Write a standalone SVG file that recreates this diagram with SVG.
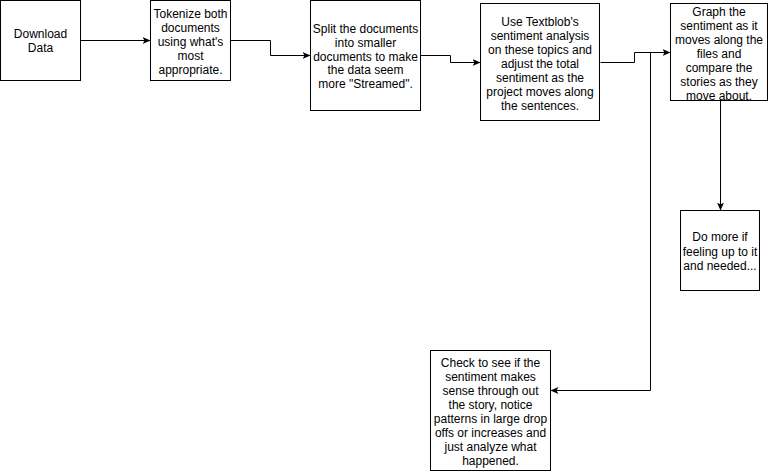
<svg xmlns="http://www.w3.org/2000/svg" width="769" height="471" viewBox="0 0 769 471">
<style>
.box{fill:#fff;stroke:#000;stroke-width:1}
.lbl{font-family:"Liberation Sans",Arial,Helvetica,sans-serif;font-size:12px;fill:#000;text-anchor:middle}
.edge{fill:none;stroke:#000;stroke-width:1;marker-end:url(#arr)}
</style>
<defs>
<marker id="arr" viewBox="0 0 8 8" refX="7.5" refY="4" markerWidth="8" markerHeight="8" markerUnits="userSpaceOnUse" orient="auto">
<path d="M0,0.5 L8,4 L0,7.5 L2,4 Z" fill="#000" stroke="none"/>
</marker>
</defs>
<rect width="769" height="471" fill="#fff"/>
<g id="connectors">
<path class="edge" d="M80.5 40.5 H150"/>
<path class="edge" d="M230.5 40.5 H270.5 V55.5 H310"/>
<path class="edge" d="M420.5 55.5 H450.5 V62.5 H480"/>
<path class="edge" d="M600.5 62.5 H634.5 V52.5 H670"/>
<path class="edge" d="M720.5 100.5 V210"/>
<path class="edge" d="M650.5 52.5 V390.5 H551"/>
</g>
<g id="n1">
<rect class="box" x="0.5" y="0.5" width="80" height="80"/>
<text class="lbl"><tspan x="40.5" y="38">Download</tspan><tspan x="40.5" y="52">Data</tspan></text>
</g>
<g id="n2">
<rect class="box" x="150.5" y="0.5" width="80" height="80"/>
<text class="lbl"><tspan x="190.5" y="17.5">Tokenize both</tspan><tspan x="190.5" y="31.5">documents</tspan><tspan x="190.5" y="45.5">using what's</tspan><tspan x="190.5" y="59.5">most</tspan><tspan x="190.5" y="73.5">appropriate.</tspan></text>
</g>
<g id="n3">
<rect class="box" x="310.5" y="0.5" width="110" height="110"/>
<text class="lbl"><tspan x="365.5" y="33">Split the documents</tspan><tspan x="365.5" y="47">into smaller</tspan><tspan x="365.5" y="60.5">documents to make</tspan><tspan x="365.5" y="74">the data seem</tspan><tspan x="365.5" y="88">more "Streamed".</tspan></text>
</g>
<g id="n4">
<rect class="box" x="480.5" y="3.5" width="119" height="117"/>
<text class="lbl"><tspan x="540" y="25.6">Use Textblob's</tspan><tspan x="540" y="39.6">sentiment analysis</tspan><tspan x="540" y="53.6">on these topics and</tspan><tspan x="540" y="67.6">adjust the total</tspan><tspan x="540" y="81.6">sentiment as the</tspan><tspan x="540" y="95.6">project moves along</tspan><tspan x="540" y="109.6">the sentences.</tspan></text>
</g>
<g id="n5">
<rect class="box" x="670.5" y="3.5" width="97" height="97"/>
<text class="lbl"><tspan x="719" y="16">Graph the</tspan><tspan x="719" y="30">sentiment as it</tspan><tspan x="719" y="44">moves along the</tspan><tspan x="719" y="58">files and</tspan><tspan x="719" y="72">compare the</tspan><tspan x="719" y="86">stories as they</tspan><tspan x="719" y="100">move about.</tspan></text>
</g>
<g id="n6">
<rect class="box" x="680.5" y="210.5" width="79" height="80"/>
<text class="lbl"><tspan x="720" y="241">Do more if</tspan><tspan x="720" y="255.5">feeling up to it</tspan><tspan x="720" y="269.5">and needed...</tspan></text>
</g>
<g id="n7">
<rect class="box" x="430.5" y="350.5" width="120" height="120"/>
<text class="lbl"><tspan x="490.5" y="367">Check to see if the</tspan><tspan x="490.5" y="381">sentiment makes</tspan><tspan x="490.5" y="395">sense through out</tspan><tspan x="490.5" y="409">the story, notice</tspan><tspan x="490.5" y="423">patterns in large drop</tspan><tspan x="490.5" y="437">offs or increases and</tspan><tspan x="490.5" y="451">just analyze what</tspan><tspan x="490.5" y="465">happened.</tspan></text>
</g>
</svg>
